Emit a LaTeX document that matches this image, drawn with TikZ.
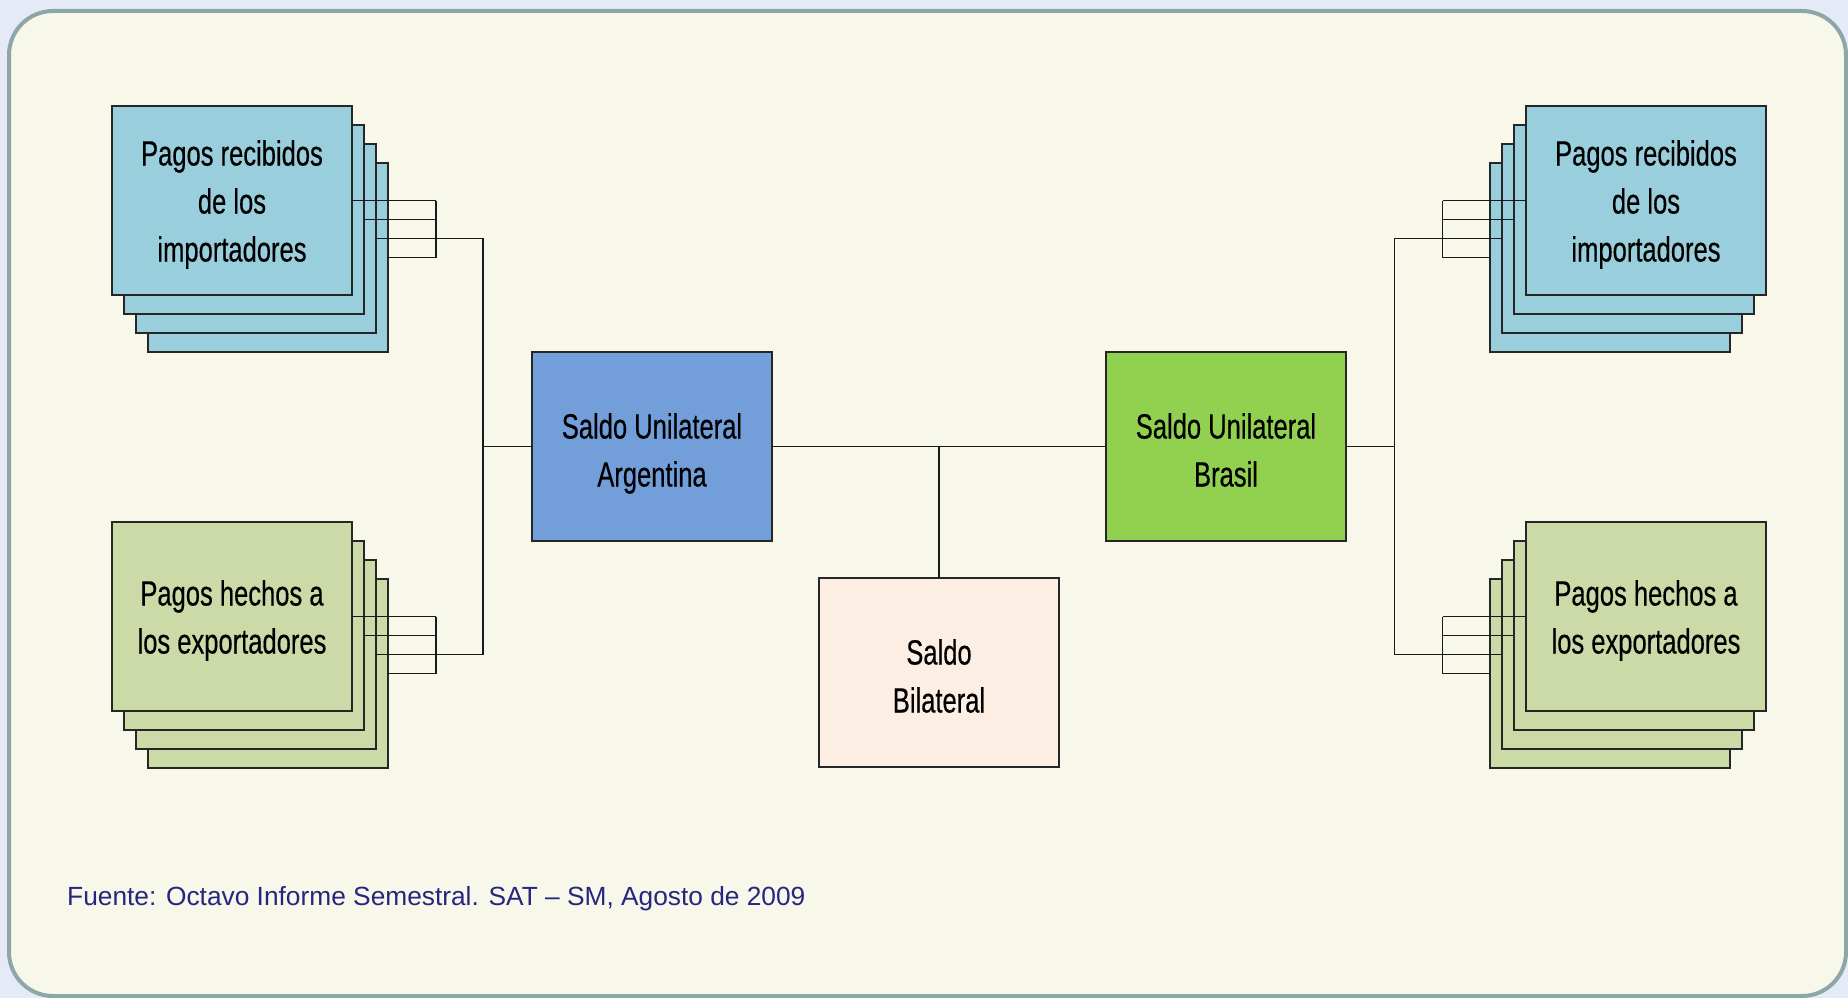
\documentclass[tikz,border=0pt]{standalone}
\usepackage{fontspec}
\newfontfamily\cardfont[FakeStretch=0.73,FakeBold=0.4]{Liberation Sans}
\newfontfamily\notefont{Liberation Sans}
\newcommand\cardstrut{\rule[-8pt]{0pt}{48pt}}
\newcommand\stackstrut{\rule[-11pt]{0pt}{48pt}}

\definecolor{impfill}{RGB}{153,206,220}
\definecolor{expfill}{RGB}{204,218,168}
\definecolor{argfill}{RGB}{114,158,218}
\definecolor{brafill}{RGB}{146,208,80}
\definecolor{bilfill}{RGB}{252,238,227}
\definecolor{framegray}{RGB}{141,166,168}
\definecolor{paper}{RGB}{247,247,234}
\definecolor{outside}{RGB}{230,234,247}
\definecolor{capblue}{RGB}{38,38,128}

\tikzset{
  card/.style={draw=black!85, line width=1.3pt, minimum width=240pt, minimum height=189pt,
    inner sep=0pt, outer sep=0pt, align=center, font=\cardfont\fontsize{35}{48}\selectfont},
  wire/.style={draw=black!90, line width=1.3pt}
}

\begin{document}
\begin{tikzpicture}[x=1pt,y=-1pt]
  \useasboundingbox (0,0) rectangle (1848,998);
  \fill[outside] (0,0) rectangle (1848,998);
  \draw[framegray, line width=4pt, fill=paper, rounded corners=44pt] (9,11) rectangle (1846,996);

  % pilas de Argentina
  \foreach \i in {3,2,1}{
    \node[card, fill=impfill] (impA\i) at (232+12*\i,200.5+19*\i) {};
    \node[card, fill=expfill] (expA\i) at (232+12*\i,616.5+19*\i) {};
  }
  \node[card, fill=impfill] (impA0) at (232,200.5)
    {\stackstrut Pagos recibidos\\\stackstrut de los\\\stackstrut importadores};
  \node[card, fill=expfill] (expA0) at (232,616.5)
    {\stackstrut Pagos hechos a\\\stackstrut los exportadores};

  % pilas de Brasil
  \foreach \i in {3,2,1}{
    \node[card, fill=impfill] (impB\i) at (1646-12*\i,200.5+19*\i) {};
    \node[card, fill=expfill] (expB\i) at (1646-12*\i,616.5+19*\i) {};
  }
  \node[card, fill=impfill] (impB0) at (1646,200.5)
    {\stackstrut Pagos recibidos\\\stackstrut de los\\\stackstrut importadores};
  \node[card, fill=expfill] (expB0) at (1646,616.5)
    {\stackstrut Pagos hechos a\\\stackstrut los exportadores};

  % saldos
  \node[card, fill=argfill] (arg) at (652,446.5) {\cardstrut Saldo Unilateral\\\cardstrut Argentina};
  \node[card, fill=brafill] (bra) at (1226,446.5) {\cardstrut Saldo Unilateral\\\cardstrut Brasil};
  \node[card, fill=bilfill] (bil) at (939,672.5) {\cardstrut Saldo\\\cardstrut Bilateral};

  \coordinate (combA) at (436,0);
  \coordinate (combB) at (1442.7,0);
  \coordinate (busA) at (483,446.5);
  \coordinate (busB) at (1394.7,446.5);

  \foreach \s in {impA,expA}{
    \foreach \i in {0,...,3}
      \draw[wire] (\s\i.east) -- (\s\i.east -| combA);
    \draw[wire] (\s0.east -| combA) -- (\s3.east -| combA);
  }
  \foreach \s in {impB,expB}{
    \foreach \i in {0,...,3}
      \draw[wire] (\s\i.west) -- (\s\i.west -| combB);
    \draw[wire] (\s0.west -| combB) -- (\s3.west -| combB);
  }

  \draw[wire] (impA2.east) -| (busA) |- (expA2.east);
  \draw[wire] (busA) -- (arg.west);
  \draw[wire] (impB2.west) -| (busB) |- (expB2.west);
  \draw[wire] (busB) -- (bra.east);
  \draw[wire] (arg.east) -- (bra.west);
  \draw[wire] (bil.north) -- (bil.north |- arg.east);

  \node[anchor=base west, inner sep=0pt, text=capblue, font=\notefont\fontsize{26.3}{30}\selectfont]
    (fuente) at (67,905) {Fuente: Octavo Informe Semestral. SAT – SM, Agosto de 2009};
\end{tikzpicture}
\end{document}
